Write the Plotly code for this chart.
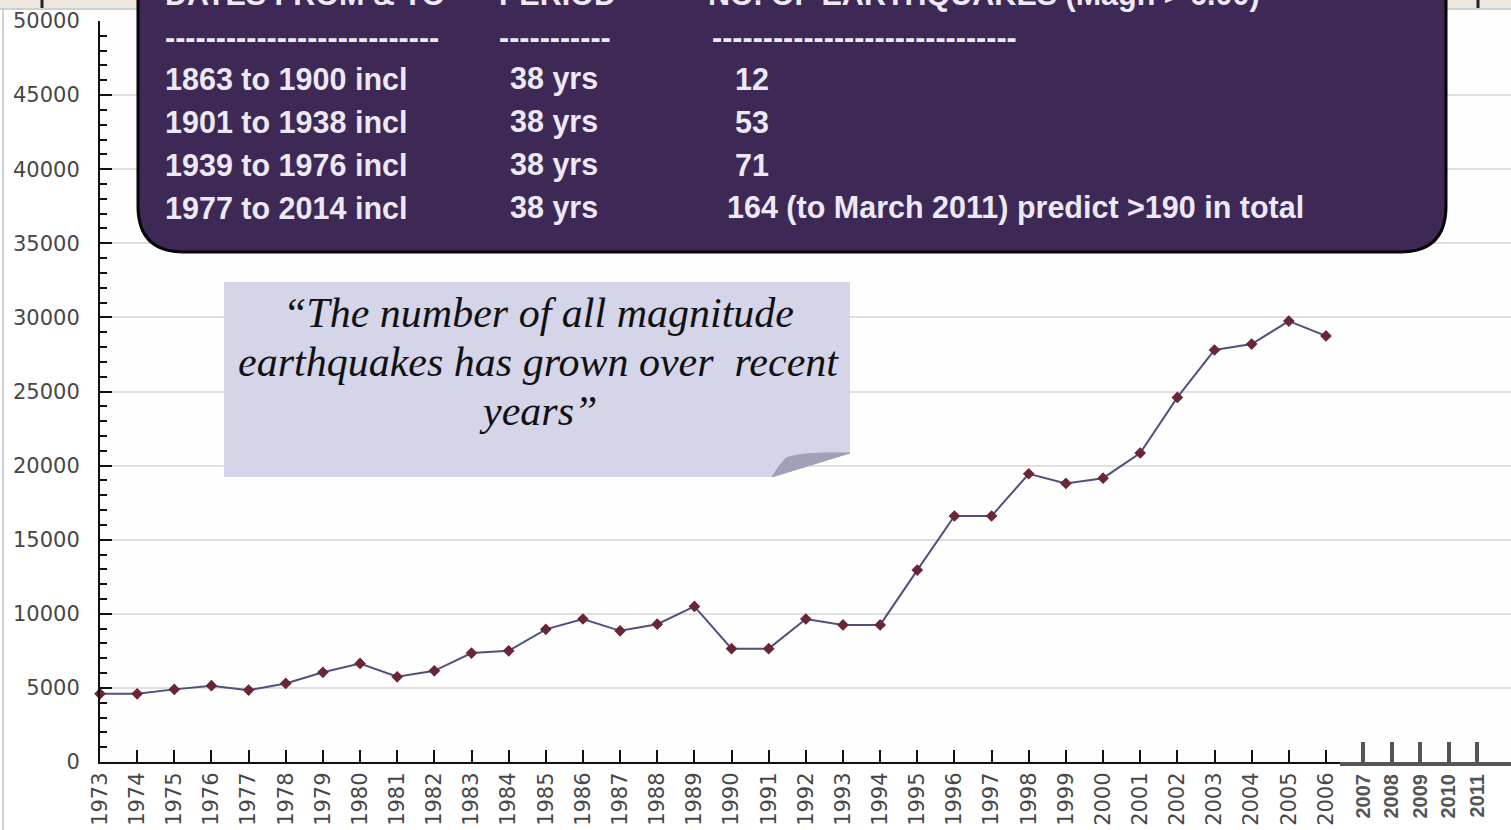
import plotly.graph_objects as go

# ---------------- data ----------------
years = [1973, 1974, 1975, 1976, 1977, 1978, 1979, 1980, 1981, 1982,
         1983, 1984, 1985, 1986, 1987, 1988, 1989, 1990, 1991, 1992,
         1993, 1994, 1995, 1996, 1997, 1998, 1999, 2000, 2001, 2002,
         2003, 2004, 2005, 2006]
counts = [4600, 4600, 4900, 5150, 4850, 5300, 6050, 6650, 5750, 6150,
          7350, 7500, 8950, 9650, 8850, 9300, 10500, 7650, 7650, 9650,
          9250, 9250, 12950, 16600, 16600, 19450, 18800, 19150, 20850, 24600,
          27800, 28200, 29750, 28750]
extra_years = [2007, 2008, 2009, 2010, 2011]
y_ticks = [0, 5000, 10000, 15000, 20000, 25000, 30000, 35000, 40000, 45000, 50000]

table_header = ["DATES FROM & TO", "PERIOD", "NO. OF EARTHQUAKES (Magn > 6.00)"]
table_dashes = ["-" * 27, "-" * 11, "-" * 30]
table_dates = ["1863 to 1900 incl", "1901 to 1938 incl", "1939 to 1976 incl", "1977 to 2014 incl"]
table_period = ["38 yrs", "38 yrs", "38 yrs", "38 yrs"]
table_counts = ["12", "53", "71", "164 (to March 2011) predict >190 in total"]
quote_lines = ["\u201cThe number of all magnitude", "earthquakes has grown over  recent", "years\u201d"]

# ---------------- geometry helpers (pixel -> paper) ----------------
W, H = 1511, 830
ML, MR, MT, MB = 100, 0, 21, 68
PW = W - ML - MR
PH = H - MT - MB


def PX(x):
    return (x - ML) / PW


def PY(y):
    return (H - MB - y) / PH


fig = go.Figure()

fig.add_trace(go.Scatter(
    x=years, y=counts, mode="lines+markers",
    line=dict(color="#50507f", width=2),
    marker=dict(symbol="diamond", size=9, color="#6a2638"),
    cliponaxis=False, showlegend=False, hoverinfo="x+y"))

fig.add_trace(go.Scatter(
    x=extra_years, y=[None] * len(extra_years), xaxis="x2", yaxis="y",
    mode="markers", showlegend=False, hoverinfo="skip"))

tick_font = dict(family="DejaVu Sans, Verdana, sans-serif", size=21, color="#474747")

fig.update_layout(
    width=W, height=H,
    margin=dict(l=ML, r=MR, t=MT, b=MB),
    paper_bgcolor="white", plot_bgcolor="#fefefe",
    xaxis=dict(
        domain=[0, PX(1340)], range=[1973, 1973 + 1240 / 37.15],
        tickmode="array", tickvals=years, ticktext=[str(v) for v in years],
        tickangle=-90, ticks="inside", ticklen=12, tickwidth=2, tickcolor="#111",
        showline=True, linecolor="#111", linewidth=2, showgrid=False,
        zeroline=False, tickfont=tick_font, anchor="y"),
    xaxis2=dict(
        domain=[PX(1340), 1], range=[2007 - 23 / 28.5, 2007 - 23 / 28.5 + 171 / 28.5],
        tickmode="array", tickvals=extra_years, ticktext=[str(v) for v in extra_years],
        tickangle=-90, ticks="inside", ticklen=20, tickwidth=4, tickcolor="#555",
        showline=True, linecolor="#555", linewidth=4, showgrid=False,
        zeroline=False, anchor="y",
        tickfont=dict(family="Liberation Sans, Arial, sans-serif", size=20, color="#555555",
                      weight="bold")),
    yaxis=dict(
        range=[0, 50000], tickmode="array", tickvals=y_ticks,
        ticktext=[str(v) for v in y_ticks],
        ticks="inside", ticklen=12, tickwidth=2, tickcolor="#111",
        minor=dict(dtick=1000, ticks="inside", ticklen=7, tickwidth=2, tickcolor="#111",
                   showgrid=False),
        showline=True, linecolor="#111", linewidth=2,
        showgrid=True, gridcolor="#dedede", gridwidth=2,
        zeroline=False, tickfont=tick_font, ticklabelstandoff=14),
)

shapes = []
# slide background strip at top
shapes.append(dict(type="rect", xref="paper", yref="paper", x0=PX(0), x1=PX(W), y0=PY(-2), y1=PY(8),
                   fillcolor="#efe6dd", line=dict(width=0), layer="above"))
shapes.append(dict(type="line", xref="paper", yref="paper", x0=PX(0), x1=PX(W), y0=PY(9), y1=PY(9),
                   line=dict(color="#cfcfcf", width=2), layer="above"))
for vx in (42, 1478):
    shapes.append(dict(type="line", xref="paper", yref="paper", x0=PX(vx), x1=PX(vx), y0=PY(-2), y1=PY(8),
                       line=dict(color="#222", width=3), layer="above"))
# left border
shapes.append(dict(type="line", xref="paper", yref="paper", x0=PX(3), x1=PX(3), y0=PY(9), y1=PY(830),
                   line=dict(color="#d0d0d0", width=2), layer="above"))

# purple table box with rounded bottom corners
bx0, bx1, by0, by1, r = 138, 1446, -30, 252, 46
path = (f"M {PX(bx0)},{PY(by0)} L {PX(bx0)},{PY(by1 - r)} "
        f"Q {PX(bx0)},{PY(by1)} {PX(bx0 + r)},{PY(by1)} "
        f"L {PX(bx1 - r)},{PY(by1)} "
        f"Q {PX(bx1)},{PY(by1)} {PX(bx1)},{PY(by1 - r)} "
        f"L {PX(bx1)},{PY(by0)} Z")
shapes.append(dict(type="path", xref="paper", yref="paper", path=path,
                   fillcolor="#3e2956", line=dict(color="#050505", width=3), layer="above"))

# lavender callout with folded corner
cx0, cx1, cy0, cy1 = 224, 850, 282, 477
fold_x, fold_y = 772, 453
callout = (f"M {PX(cx0)},{PY(cy0)} L {PX(cx1)},{PY(cy0)} L {PX(cx1)},{PY(fold_y)} "
           f"Q {PX(800)},{PY(452)} {PX(786)},{PY(458)} "
           f"Q {PX(778)},{PY(466)} {PX(fold_x)},{PY(cy1)} L {PX(cx0)},{PY(cy1)} Z")
shapes.append(dict(type="path", xref="paper", yref="paper", path=callout,
                   fillcolor="#d5d5ea", line=dict(width=0), layer="above"))
fold = (f"M {PX(fold_x)},{PY(cy1)} Q {PX(778)},{PY(466)} {PX(786)},{PY(458)} "
        f"Q {PX(800)},{PY(452)} {PX(cx1)},{PY(fold_y)} L {PX(fold_x)},{PY(cy1)} Z")
shapes.append(dict(type="path", xref="paper", yref="paper", path=fold,
                   fillcolor="#a0a0b8", line=dict(color="#a0a0b8", width=1), layer="above"))

fig.update_layout(shapes=shapes)

annotations = []
box_font = dict(family="Liberation Sans, Arial, sans-serif",
                size=30.5, color="#ece8f4", weight="bold")
row_y = [-5.7, 37, 79, 122, 164.5, 207.5]
col_x = [163, 508, 733]


def add_text(x, y, text, font, anchor="left"):
    annotations.append(dict(xref="paper", yref="paper", x=PX(x), y=PY(y), text=text,
                            showarrow=False, xanchor=anchor, yanchor="middle", font=font,
                            align=anchor))


add_text(163, row_y[0], table_header[0], box_font)
add_text(497, row_y[0], table_header[1], box_font)
add_text(706, row_y[0], table_header[2], box_font)
add_text(163, row_y[1], table_dashes[0], box_font)
add_text(497, row_y[1], table_dashes[1], box_font)
add_text(710, row_y[1], table_dashes[2], box_font)
for i in range(4):
    add_text(col_x[0], row_y[2 + i], table_dates[i], box_font)
    add_text(col_x[1], row_y[2 + i], table_period[i], box_font)
    add_text(col_x[2] - (8 if i == 3 else 0), row_y[2 + i], table_counts[i], box_font)

quote_font = dict(family="Liberation Serif, Times New Roman, serif", size=42, color="#111111",
                  style="italic")
for i, line in enumerate(quote_lines):
    add_text(538, [313, 362, 411][i], line, quote_font, anchor="center")

fig.update_layout(annotations=annotations)

fig.write_html("out.html", config={"displayModeBar": False},
               post_script="document.body.style.margin='0px';")
